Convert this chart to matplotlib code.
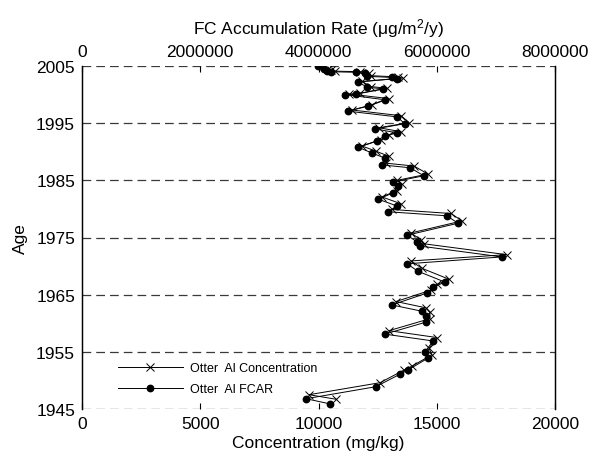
import matplotlib
matplotlib.use("Agg")
import matplotlib.pyplot as plt

plt.rcParams['font.family'] = ['Liberation Sans', 'DejaVu Sans']
plt.rcParams['mathtext.fontset'] = 'custom'
plt.rcParams['mathtext.rm'] = 'Liberation Sans'
plt.rcParams['mathtext.it'] = 'Liberation Sans:italic'

# FCAR series (top axis, ug/m2/y)
fcar_age = [2005.0, 2004.4, 2004.2, 2004.0, 2003.9, 2003.7, 2003.2, 2003.0, 2002.8, 2002.2,
            2001.3, 2001.0, 2000.1, 2000.0, 1999.1, 1998.0, 1997.1, 1996.1, 1994.9, 1994.0,
            1993.3, 1992.8, 1991.9, 1990.8, 1989.8, 1988.9, 1987.7, 1987.2, 1985.8, 1984.7,
            1984.0, 1982.8, 1981.7, 1980.5, 1979.5, 1978.8, 1977.5, 1975.4, 1974.2, 1973.5,
            1971.6, 1970.4, 1969.1, 1967.2, 1966.3, 1965.3, 1963.2, 1962.1, 1961.3, 1960.2,
            1958.1, 1956.9, 1955.0, 1953.9, 1951.8, 1951.1, 1948.9, 1946.8, 1945.9]
fcar = [3.99e6, 4.09e6, 4.14e6, 4.21e6, 4.63e6, 4.79e6, 4.82e6, 5.24e6, 5.33e6, 4.67e6,
        4.82e6, 5.09e6, 4.63e6, 4.45e6, 5.12e6, 4.84e6, 4.50e6, 5.33e6, 5.46e6, 4.96e6,
        5.33e6, 5.12e6, 4.99e6, 4.67e6, 4.90e6, 5.12e6, 5.07e6, 5.55e6, 5.78e6, 5.26e6,
        5.34e6, 5.26e6, 5.01e6, 5.33e6, 5.18e6, 6.17e6, 6.36e6, 5.50e6, 5.67e6, 5.72e6,
        7.10e6, 5.50e6, 5.68e6, 6.14e6, 5.94e6, 5.84e6, 5.24e6, 5.75e6, 5.82e6, 5.82e6,
        5.12e6, 5.94e6, 5.80e6, 5.85e6, 5.51e6, 5.38e6, 4.97e6, 3.79e6, 4.19e6]

# Concentration series (bottom axis, mg/kg)
conc_age = [2005.0, 2004.5, 2004.3, 2004.1, 2004.0, 2003.8, 2003.3, 2003.1, 2002.9, 2002.3,
            2001.4, 2001.1, 2000.2, 2000.1, 1999.3, 1998.2, 1997.3, 1996.3, 1995.1, 1994.2,
            1993.5, 1993.0, 1992.1, 1991.0, 1990.1, 1989.2, 1988.0, 1987.5, 1986.1, 1985.0,
            1984.3, 1983.2, 1982.1, 1980.9, 1979.9, 1979.2, 1977.9, 1975.8, 1974.6, 1973.9,
            1972.0, 1970.9, 1969.6, 1967.7, 1966.8, 1965.8, 1963.8, 1962.7, 1961.9, 1960.8,
            1958.7, 1957.5, 1955.6, 1954.5, 1952.5, 1951.8, 1949.6, 1947.5, 1946.7]
conc = [10230, 10400, 10530, 10700, 11750, 12130, 12220, 13350, 13570, 11840,
        12220, 12900, 11750, 11290, 12980, 12260, 11420, 13490, 13830, 12560,
        13490, 12980, 12640, 11840, 12430, 12980, 12850, 14040, 14630, 13320,
        13530, 13320, 12680, 13490, 13110, 15600, 16070, 13910, 14330, 14460,
        17950, 13910, 14380, 15520, 15010, 14760, 13280, 14540, 14710, 14710,
        12980, 15010, 14670, 14800, 13950, 13610, 12600, 9600, 10750]

xticks_bottom = [0, 5000, 10000, 15000, 20000]
xticks_top = [0, 2000000, 4000000, 6000000, 8000000]
yticks = [1945, 1955, 1965, 1975, 1985, 1995, 2005]

fig = plt.figure(figsize=(5.89, 4.64), dpi=100)
ax = fig.add_axes([82/589, 1 - 410/464, (555-82)/589, (410-67)/464])
ax2 = ax.twiny()

fs = 12.5
ax.set_xlim(0, 20000)
ax.set_ylim(1945, 2005)
ax2.set_xlim(0, 8000000)

for y in yticks:
    ax.axhline(y, color='#3a3a3a', lw=0.9, ls=(0, (7, 4)), zorder=1)

l1, = ax.plot(conc, conc_age, color='black', lw=0.7, marker='x', ms=6, mew=0.7,
              label='Otter  Al Concentration', zorder=3)
l2, = ax2.plot(fcar, fcar_age, color='black', lw=0.7, marker='o', ms=4.6,
               label='Otter  Al FCAR', zorder=3)

ax.set_xticks(xticks_bottom)
ax.set_xticklabels([str(v) for v in xticks_bottom], fontsize=fs)
ax.set_yticks(yticks)
ax.set_yticklabels([str(v) for v in yticks], fontsize=fs)
ax2.set_xticks(xticks_top)
ax2.set_xticklabels([str(v) for v in xticks_top], fontsize=fs)

for a in (ax, ax2):
    a.tick_params(direction='in', length=4, width=0.8, pad=5)
    a.spines['top'].set_visible(False)
    a.spines['bottom'].set_visible(False)
    a.spines['left'].set_linewidth(0.9)
    a.spines['right'].set_linewidth(0.9)
ax.tick_params(axis='y', length=0)

ax.set_xlabel('Concentration (mg/kg)', fontsize=fs, labelpad=3)
ax.set_ylabel('Age', fontsize=fs, labelpad=6)
ax2.set_xlabel('FC Accumulation Rate (\u03bcg/m$^2$/y)', fontsize=fs, labelpad=8)

leg = ax.legend(handles=[l1, l2], loc='lower left', bbox_to_anchor=(0.065, 0.025),
                frameon=False, fontsize=9, handlelength=5.2, handletextpad=0.6,
                labelspacing=0.75, borderaxespad=0)

fig.savefig('out.png', dpi=100)
